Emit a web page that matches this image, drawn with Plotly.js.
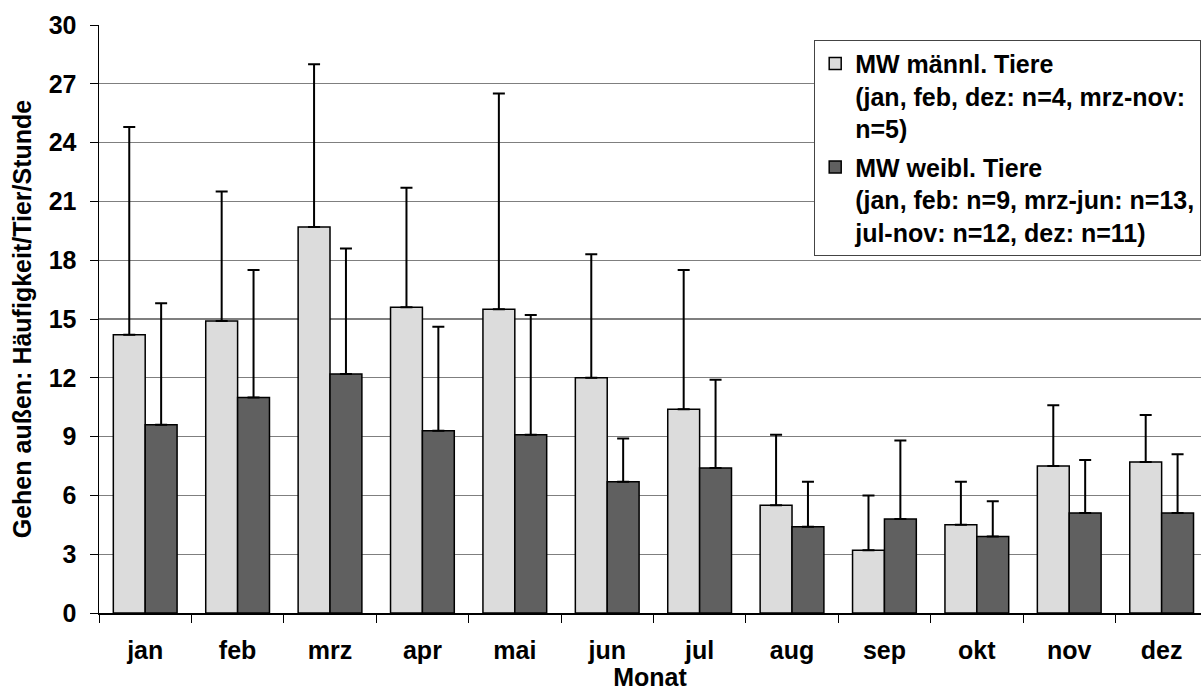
<!DOCTYPE html>
<html>
<head>
<meta charset="utf-8">
<script src="https://cdn.plot.ly/plotly-3.0.1.min.js"></script>
<style>
  html, body { margin: 0; padding: 0; background: #fff; }
  #chart { width: 1201px; height: 691px; }
</style>
</head>
<body>
<div id="chart"></div>
<script>
// Monthly means and standard deviations of outdoor walking frequency
const months = ['jan', 'feb', 'mrz', 'apr', 'mai', 'jun', 'jul', 'aug', 'sep', 'okt', 'nov', 'dez'];

const maleMean = [14.2, 14.9, 19.7, 15.6, 15.5, 12.0, 10.4, 5.5, 3.2, 4.5, 7.5, 7.7];
const maleSD   = [10.6, 6.6, 8.3, 6.1, 11.0, 6.3, 7.1, 3.6, 2.8, 2.2, 3.1, 2.4];

const femaleMean = [9.6, 11.0, 12.2, 9.3, 9.1, 6.7, 7.4, 4.4, 4.8, 3.9, 5.1, 5.1];
const femaleSD   = [6.2, 6.5, 6.4, 5.3, 6.1, 2.2, 4.5, 2.3, 4.0, 1.8, 2.7, 3.0];

const maleLabel = 'MW männl. Tiere<br>(jan, feb, dez: n=4, mrz-nov:<br>n=5)';
const femaleLabel = 'MW weibl. Tiere<br>(jan, feb: n=9, mrz-jun: n=13,<br>jul-nov: n=12, dez: n=11)';

const FONT = 'Liberation Sans, Arial, sans-serif';
const TEXT = { family: FONT, size: 25, color: '#000', weight: 'bold' };

function barTrace(name, group, y, sd, fill) {
  return {
    type: 'bar',
    name: name,
    legendgroup: group,
    x: months,
    y: y,
    marker: { color: fill, line: { color: '#000', width: 1.5 } },
    error_y: {
      type: 'data', array: sd, symmetric: false, arrayminus: sd.map(() => 0),
      color: '#000', thickness: 2, width: 6
    },
    hoverinfo: 'x+y'
  };
}

const data = [
  barTrace(maleLabel, 'm', maleMean, maleSD, '#dcdcdc'),
  barTrace(femaleLabel, 'w', femaleMean, femaleSD, '#606060')
];

const layout = {
  width: 1201,
  height: 691,
  margin: { l: 99, r: 0, t: 25, b: 78, pad: 0, autoexpand: false },
  paper_bgcolor: '#fff',
  plot_bgcolor: '#fff',
  barmode: 'group',
  bargap: 0.31,
  bargroupgap: 0,
  font: TEXT,
  showlegend: true,
  legend: {
    x: 0.649, y: 0.975, xanchor: 'left', yanchor: 'top',
    bgcolor: '#fff', bordercolor: '#444', borderwidth: 1,
    font: TEXT,
    valign: 'top',
    tracegroupgap: 3
  },
  xaxis: {
    type: 'category',
    range: [-0.5, 11.426],
    showline: true, linecolor: '#000', linewidth: 1.5,
    ticks: 'outside', ticklen: 8, tickcolor: '#000', tickwidth: 1,
    tickson: 'boundaries',
    ticklabelstandoff: 14,
    showgrid: false,
    zeroline: false,
    tickfont: TEXT,
    title: { text: 'Monat', font: TEXT, standoff: 2 }
  },
  yaxis: {
    range: [0, 30],
    tick0: 0, dtick: 3,
    showline: true, linecolor: '#000', linewidth: 1.5,
    ticks: 'outside', ticklen: 8, tickcolor: '#000', tickwidth: 1,
    ticklabelstandoff: 8,
    showgrid: true, gridcolor: '#7f7f7f', gridwidth: 1.2,
    zeroline: false,
    tickfont: TEXT,
    title: { text: 'Gehen außen: Häufigkeit/Tier/Stunde', font: TEXT, standoff: 10 }
  }
};

Plotly.newPlot('chart', data, layout, { displayModeBar: false, staticPlot: true });
</script>
</body>
</html>
